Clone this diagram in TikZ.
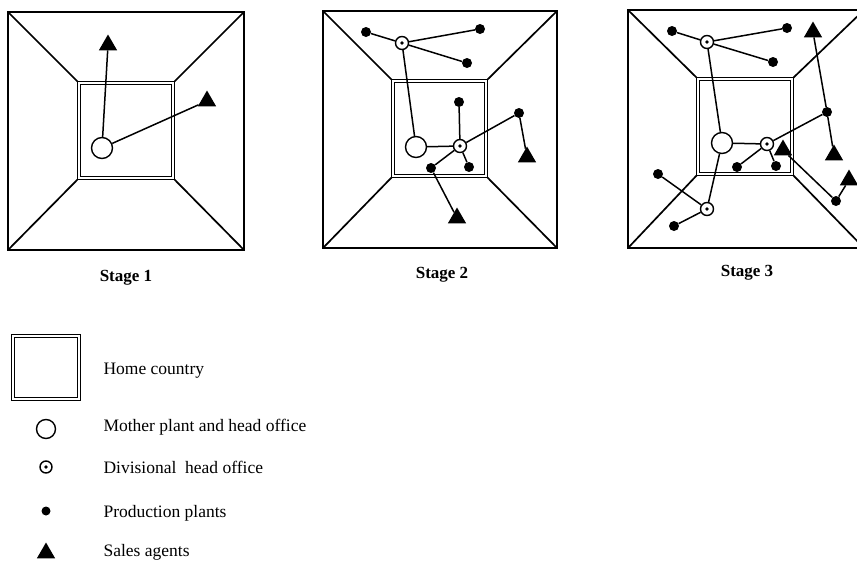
\documentclass[tikz,border=0pt]{standalone}
\usepackage{fontspec}
\setmainfont{Liberation Serif}
\usetikzlibrary{shapes.geometric}
\begin{document}
\begin{tikzpicture}[x=1pt,y=-1pt,
  frame/.style={draw, line width=1.7pt, line join=miter},
  home/.style={draw, double=white, double distance=1.3pt, line width=1.4pt},
  link/.style={line width=1.5pt},
  mother/.style={circle, draw, fill=white, line width=1.4pt, minimum size=21pt, inner sep=0pt},
  divh/.style={circle, draw, fill=white, line width=1.4pt, minimum size=13pt, inner sep=0pt,
    path picture={\fill[black] (path picture bounding box.center) circle[radius=1.8pt];}},
  plant/.style={circle, fill=black, minimum size=10pt, inner sep=0pt},
  agent/.style={regular polygon, regular polygon sides=3, fill=black, minimum size=21pt, inner sep=0pt},
  stagelabel/.style={font=\fontsize{17}{20}\selectfont\bfseries, anchor=base},
  legtext/.style={font=\fontsize{17.5}{20}\selectfont, anchor=base west}]
\useasboundingbox (0,0) rectangle (857,560);
\clip (0,0) rectangle (857,560);
\fill[white] (0,0) rectangle (857,560);

% ---------- Stage 1 ----------
\draw[frame] (8,12) rectangle (244,250);
\draw[frame] (8,12) -- (79,83) (244,12) -- (173,83) (8,250) -- (79,178) (244,250) -- (173,178);
\draw[home] (79,83) rectangle (173,178);
\node[mother] (m1) at (102,148) {};
\node[agent] (a1) at (108,45) {};
\node[agent] (a2) at (207,101) {};
\draw[link] (m1) -- (a1);
\draw[link] (m1) -- (a2);
\node[stagelabel] (s1) at (126,281.5) {Stage 1};

% ---------- Stage 2 ----------
\draw[frame] (323,11) rectangle (557,248);
\draw[frame] (323,11) -- (393,81) (557,11) -- (486,81) (323,248) -- (393,176) (557,248) -- (486,176);
\draw[home] (393,81) rectangle (486,176);
\node[mother] (m2) at (416,147) {};
\node[divh] (d21) at (402,43) {};
\node[plant] (p21) at (366,32) {};
\node[plant] (p22) at (480,29) {};
\node[plant] (p23) at (467,63) {};
\node[divh] (d22) at (460,146) {};
\node[plant] (p24) at (459,102) {};
\node[plant] (p25) at (469,167) {};
\node[plant] (p26) at (431,168) {};
\node[plant] (p27) at (519,113) {};
\node[agent] (a21) at (527,157) {};
\node[agent] (a22) at (457,218) {};
\draw[link] (d21) -- (p21);
\draw[link] (d21) -- (p22);
\draw[link] (d21) -- (p23);
\draw[link] (d21) -- (m2);
\draw[link] (m2) -- (d22);
\draw[link] (d22) -- (p24);
\draw[link] (d22) -- (p25);
\draw[link] (d22) -- (p26);
\draw[link] (d22) -- (p27);
\draw[link] (p27) -- (a21);
\draw[link] (p26) -- (a22);
\node[stagelabel] (s2) at (442,278.3) {Stage 2};

% ---------- Stage 3 ----------
\draw[frame] (628,10) rectangle (864,248);
\draw[frame] (628,10) -- (698,79) (864,10) -- (792,79) (628,248) -- (698,174) (864,248) -- (792,174);
\draw[home] (698,79) rectangle (792,174);
\node[mother] (m3) at (722,143) {};
\node[divh] (d31) at (707,42) {};
\node[plant] (p31) at (672,31) {};
\node[plant] (p32) at (787,28) {};
\node[plant] (p33) at (773,62) {};
\node[divh] (d32) at (767,144) {};
\node[plant] (p34) at (737,167) {};
\node[plant] (p35) at (776,166) {};
\node[plant] (p36) at (827,112) {};
\node[agent] (a31) at (813,32) {};
\node[agent] (a32) at (834,155) {};
\node[agent] (a33) at (783,150) {};
\node[plant] (p37) at (836,201) {};
\node[agent] (a34) at (849,180) {};
\node[divh] (d33) at (707,209) {};
\node[plant] (p38) at (658,174) {};
\node[plant] (p39) at (674,226) {};
\draw[link] (d31) -- (p31);
\draw[link] (d31) -- (p32);
\draw[link] (d31) -- (p33);
\draw[link] (d31) -- (m3);
\draw[link] (m3) -- (d32);
\draw[link] (d32) -- (p34);
\draw[link] (d32) -- (p35);
\draw[link] (d32) -- (p36);
\draw[link] (a31) -- (p36);
\draw[link] (p36) -- (a32);
\draw[link] (a33.south east) -- (p37);
\draw[link] (p37) -- (a34);
\draw[link] (m3) -- (d33);
\draw[link] (d33) -- (p38);
\draw[link] (d33) -- (p39);
\node[stagelabel] (s3) at (747,276.7) {Stage 3};

% ---------- Legend ----------
\draw[home] (13,336) rectangle (79,399);
\node[legtext] (l1) at (100,374.3) {Home country};
\node[mother, minimum size=19pt] (lm) at (46,429) {};
\node[legtext] (l2) at (100,431.7) {Mother plant and head office};
\node[divh, minimum size=12pt] (ld) at (46,467) {};
\node[legtext] (l3) at (100,473.3) {Divisional\ \ head office};
\node[plant, minimum size=9pt] (lp) at (46,511) {};
\node[legtext] (l4) at (100,517.7) {Production plants};
\node[agent] (la) at (46,553) {};
\node[legtext] (l5) at (100,556.7) {Sales agents};
\end{tikzpicture}
\end{document}
